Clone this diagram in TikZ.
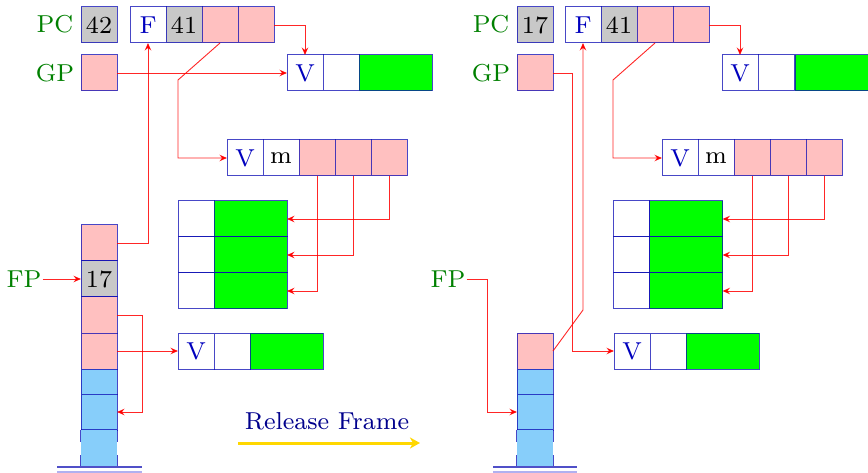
\documentclass[tikz,border=0pt]{standalone}
\usepackage{fontspec}
\setmainfont{lmroman8-regular}[Extension=.otf]
\usetikzlibrary{arrows.meta,calc}
\definecolor{pinkc}{RGB}{255,192,192}
\definecolor{grayc}{RGB}{200,200,200}
\definecolor{greenc}{RGB}{0,255,0}
\definecolor{bluec}{RGB}{135,206,250}
\definecolor{borderc}{RGB}{10,10,180}
\definecolor{lblc}{RGB}{0,128,0}
\definecolor{vtext}{RGB}{0,0,190}
\definecolor{navyc}{RGB}{0,0,140}
\definecolor{yelc}{RGB}{255,215,0}
\definecolor{dblc}{RGB}{80,80,200}
\definecolor{dblc2}{RGB}{176,176,240}
\begin{document}
\begin{tikzpicture}[x=1pt,y=-1pt,
  font=\fontsize{24.5}{29}\selectfont,
  cell/.style={draw=borderc, draw opacity=0.75, line width=1pt, fill=white,
    minimum width=36pt, minimum height=36pt, inner sep=0pt, outer sep=0pt, text=black},
  wide/.style={minimum width=73pt},
  pinkcell/.style={cell, fill=pinkc},
  graycell/.style={cell, fill=grayc},
  greencell/.style={cell, wide, fill=greenc},
  bluecell/.style={cell, fill=bluec},
  vcell/.style={cell, text=vtext},
  lbl/.style={text=lblc, inner sep=1pt},
  border/.style={draw=borderc, draw opacity=0.75, line width=1pt},
  arr/.style={draw=red, draw opacity=0.85, line width=0.9pt,
    -{Stealth[length=7.5pt,width=6.5pt,inset=2.5pt]}},
  yarr/.style={draw=yelc, line width=3pt, -{Stealth[length=10pt,width=11pt,inset=3pt]}},
  dbl1/.style={draw=dblc, line width=1.5pt},
  dbl2/.style={draw=dblc2, line width=1.5pt}
]
\useasboundingbox (0,0) rectangle (868,473);

% ================= LEFT =================
\node[lbl] (pcL) at (55,24) {PC};
\node[graycell] (pcL1) at (99,25) {42};
\node[vcell] (fL1) at (148,25) {F};
\node[graycell] (fL2) at (184,25) {41};
\node[pinkcell] (fL3) at (220,25) {};
\node[pinkcell] (fL4) at (256,25) {};

\node[lbl] (gpL) at (55,73) {GP};
\node[pinkcell] (gpL1) at (99,73) {};
\node[vcell] (vL1) at (305,73) {V};
\node[cell] (vL2) at (341,73) {};
\node[greencell] (vL3) at (395.5,73) {};

\node[vcell] (vmL1) at (245,158) {V};
\node[cell] (vmL2) at (281,158) {m};
\node[pinkcell] (vmL3) at (317,158) {};
\node[pinkcell] (vmL4) at (353,158) {};
\node[pinkcell] (vmL5) at (389,158) {};

\node[cell] (tL1w) at (196,219) {};
\node[greencell] (tL1g) at (250.5,219) {};
\node[cell] (tL2w) at (196,255) {};
\node[greencell] (tL2g) at (250.5,255) {};
\node[cell] (tL3w) at (196,291) {};
\node[greencell] (tL3g) at (250.5,291) {};

\node[vcell] (lvL1) at (196,351) {V};
\node[cell] (lvL2) at (232,351) {};
\node[greencell] (lvL3) at (286.5,351) {};

\node[lbl] (fpL) at (24,279) {FP};
\node[pinkcell] (sL1) at (99,243) {};
\node[graycell] (sL2) at (99,279) {17};
\node[pinkcell] (sL3) at (99,315) {};
\node[pinkcell] (sL4) at (99,351) {};
\node[bluecell, minimum height=25pt] (sL5) at (99,381.5) {};
\node[bluecell] (sL6) at (99,412) {};
\node[fill=bluec, minimum width=36pt, minimum height=37pt, inner sep=0pt] (sL7) at (99,448.5) {};
\draw[border] (sL7.north west) -- (sL7.north east);
\draw[border] (sL7.north west) -- ++(0,12);
\draw[border] (sL7.north east) -- ++(0,12);
\draw[border] (sL7.south west) -- ++(0,-12);
\draw[border] (sL7.south east) -- ++(0,-12);
\draw[dbl1] (57,467) -- (142,467);
\draw[dbl2] (57,472) -- (142,472);

\draw[arr] (fL4.east) -| (vL1.north);
\draw[arr] (gpL1.east) -- (vL1.west);
\draw[arr] (sL1.east) -| (fL1.south);
\draw[arr] (fL3.south) -- (178,80) |- (vmL1.west);
\draw[arr] (vmL5.south) |- (tL1g.east);
\draw[arr] (vmL4.south) |- (tL2g.east);
\draw[arr] (vmL3.south) |- (tL3g.east);
\draw[arr] (sL3.east) -- ++(25,0) |- (sL6.east);
\draw[arr] (sL4.east) -- (lvL1.west);
\draw[arr] (fpL.east) -- (sL2.west);

% ================= MIDDLE =================
\node[text=navyc, inner sep=0pt] (rel) at (327,421) {Release Frame};
\coordinate (ys) at (238,443);
\coordinate (ye) at (420,443);
\draw[yarr] (ys) -- (ye);

% ================= RIGHT =================
\node[lbl] (pcR) at (491,24) {PC};
\node[graycell] (pcR1) at (535,25) {17};
\node[vcell] (fR1) at (583,25) {F};
\node[graycell] (fR2) at (619,25) {41};
\node[pinkcell] (fR3) at (655,25) {};
\node[pinkcell] (fR4) at (691,25) {};

\node[lbl] (gpR) at (491,73) {GP};
\node[pinkcell] (gpR1) at (535,73) {};
\node[vcell] (vR1) at (740,73) {V};
\node[cell] (vR2) at (776,73) {};
\node[greencell] (vR3) at (831.5,73) {};

\node[vcell] (vmR1) at (680,158) {V};
\node[cell] (vmR2) at (716,158) {m};
\node[pinkcell] (vmR3) at (752,158) {};
\node[pinkcell] (vmR4) at (788,158) {};
\node[pinkcell] (vmR5) at (824,158) {};

\node[cell] (tR1w) at (631.5,219) {};
\node[greencell] (tR1g) at (686,219) {};
\node[cell] (tR2w) at (631.5,255) {};
\node[greencell] (tR2g) at (686,255) {};
\node[cell] (tR3w) at (631.5,291) {};
\node[greencell] (tR3g) at (686,291) {};

\node[vcell] (lvR1) at (632,351) {V};
\node[cell] (lvR2) at (668,351) {};
\node[greencell] (lvR3) at (722.5,351) {};

\node[lbl] (fpR) at (448,279) {FP};
\node[pinkcell] (sR1) at (535,351) {};
\node[bluecell, minimum height=25pt] (sR2) at (535,381.5) {};
\node[bluecell] (sR3) at (535,412) {};
\node[fill=bluec, minimum width=36pt, minimum height=37pt, inner sep=0pt] (sR4) at (535,448.5) {};
\draw[border] (sR4.north west) -- (sR4.north east);
\draw[border] (sR4.north west) -- ++(0,12);
\draw[border] (sR4.north east) -- ++(0,12);
\draw[border] (sR4.south west) -- ++(0,-12);
\draw[border] (sR4.south east) -- ++(0,-12);
\draw[dbl1] (493,467) -- (577,467);
\draw[dbl2] (493,472) -- (577,472);

\draw[arr] (fR4.east) -| (vR1.north);
\draw[arr] (gpR1.east) -- (572,73) |- (lvR1.west);
\draw[arr] (sR1.east) -- (583,310) -- (fR1.south);
\draw[arr] (fR3.south) -- (613,80) |- (vmR1.west);
\draw[arr] (vmR5.south) |- (tR1g.east);
\draw[arr] (vmR4.south) |- (tR2g.east);
\draw[arr] (vmR3.south) |- (tR3g.east);
\draw[arr] (fpR.east) -- (487,279) |- (sR3.west);
\end{tikzpicture}
\end{document}
